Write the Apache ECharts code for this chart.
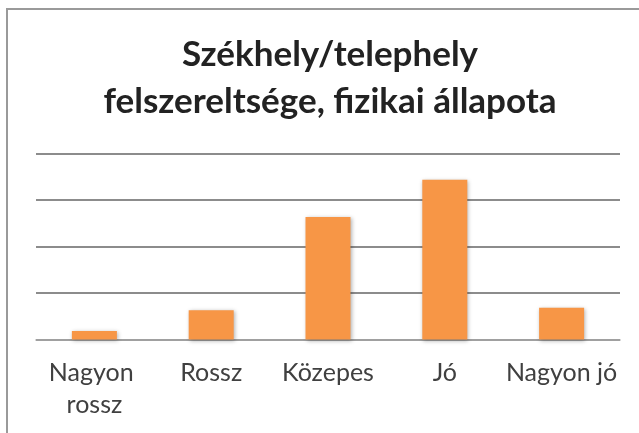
<!DOCTYPE html>
<html>
<head>
<meta charset="utf-8">
<script src="https://cdn.jsdelivr.net/npm/echarts@6/dist/echarts.min.js"></script>
<style>
  html, body {
    margin: 0;
    padding: 0;
    background: #ffffff;
  }
  #chart {
    width: 639px;
    height: 433px;
  }
</style>
</head>
<body>
<div id="chart"></div>
<script>
const categories = ['Nagyon rossz', 'Rossz', 'Közepes', 'Jó', 'Nagyon jó']
const values = [1.8, 6.3, 26.3, 34.3, 6.8]
const titleText = 'Székhely/telephely\nfelszereltsége, fizikai állapota'

const chart = echarts.init(document.getElementById('chart'))

const option = {
  animation: false,
  backgroundColor: '#ffffff',
  graphic: [
    {
      type: 'rect',
      shape: {x: 7, y: 9, width: 660, height: 460},
      style: {fill: 'none', stroke: '#9a9a9a', lineWidth: 2},
      silent: true
    }
  ],
  title: {
    text: titleText,
    left: 325,
    top: 26,
    textAlign: 'center',
    textStyle: {
      fontFamily: 'Lato',
      fontWeight: 'bold',
      fontSize: 35,
      lineHeight: 47,
      color: '#222222'
    }
  },
  grid: {
    top: 153.3,
    left: 36,
    right: 19,
    bottom: 93.5,
    containLabel: false
  },
  xAxis: {
    type: 'category',
    data: categories,
    axisLine: {
      lineStyle: {
        color: '#a6a6a6',
        width: 1.5
      }
    },
    axisTick: {
      length: 8,
      lineStyle: {
        color: '#a6a6a6',
        width: 1.5
      }
    },
    axisLabel: {
      margin: 18,
      fontFamily: 'Lato',
      fontSize: 25,
      lineHeight: 31.5,
      color: '#404040',
      width: 128,
      overflow: 'break',
      interval: 0
    }
  },
  yAxis: {
    type: 'value',
    min: 0,
    max: 40,
    interval: 10,
    axisLine: {show: false},
    axisTick: {show: false},
    axisLabel: {show: false},
    splitLine: {
      lineStyle: {
        color: '#8c8c8c',
        width: 2
      }
    }
  },
  series: [
    {
      type: 'bar',
      data: values,
      barWidth: 45,
      itemStyle: {
        color: '#f79646',
        shadowBlur: 4,
        shadowColor: 'rgba(0, 0, 0, 0.3)',
        shadowOffsetX: 1,
        shadowOffsetY: 1
      }
    }
  ]
}

chart.setOption(option)
</script>
</body>
</html>
